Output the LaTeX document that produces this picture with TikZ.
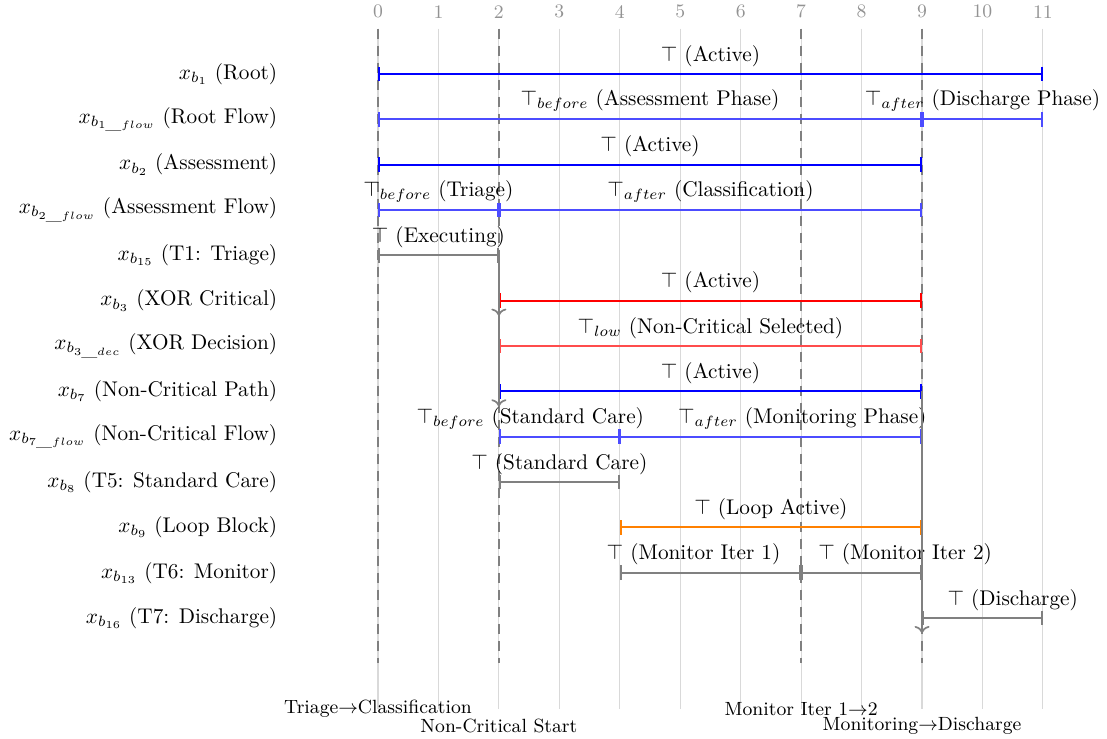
\documentclass[tikz,border=0pt]{standalone}
\usetikzlibrary{arrows.meta}
\begin{document}
\begin{tikzpicture}[
  gridline/.style={gray!30, line width=0.5pt},
  milestone/.style={gray, thick, dash pattern=on 5pt off 3pt},
  seg/.style={line width=0.9pt, {Bar[width=7pt]}-{Bar[width=7pt]}},
  blockbar/.style={seg, blue},
  flowbar/.style={seg, line width=0.8pt, blue!70},
  xorbar/.style={seg, red},
  decbar/.style={seg, line width=0.8pt, red!70},
  taskbar/.style={seg, gray},
  loopbar/.style={seg, orange},
  lbl/.style={anchor=south, text=black},
  rowlbl/.style={anchor=east, inner sep=0pt},
  ticklbl/.style={gray!85, font=\small},
  mslbl/.style={font=\small},
  dep/.style={gray, thick, ->},
]
\useasboundingbox (-6.253,1.224) rectangle (12.06,-10.985);

% grid and axis numbers
\foreach \i in {0,...,11} {
  \draw[gridline] (\i,0.75) -- (\i,-10.5);
  \node[ticklbl] (t\i) at (\i,1.03) {\i};
}
% milestone lines
\foreach \i in {0,2,7,9} {
  \draw[milestone] (\i,0.75) -- (\i,-9.75);
}

% row labels
\node[rowlbl] (r0)  at (-1.66,0)     {$x_{b_1}$ (Root)};
\node[rowlbl] (r1)  at (-1.66,-0.75) {$x_{b_{1\_flow}}$ (Root Flow)};
\node[rowlbl] (r2)  at (-1.66,-1.5)  {$x_{b_2}$ (Assessment)};
\node[rowlbl] (r3)  at (-1.66,-2.25) {$x_{b_{2\_flow}}$ (Assessment Flow)};
\node[rowlbl] (r4)  at (-1.66,-3)    {$x_{b_{15}}$ (T1: Triage)};
\node[rowlbl] (r5)  at (-1.66,-3.75) {$x_{b_3}$ (XOR Critical)};
\node[rowlbl] (r6)  at (-1.66,-4.5)  {$x_{b_{3\_dec}}$ (XOR Decision)};
\node[rowlbl] (r7)  at (-1.66,-5.25) {$x_{b_7}$ (Non-Critical Path)};
\node[rowlbl] (r8)  at (-1.66,-6)    {$x_{b_{7\_flow}}$ (Non-Critical Flow)};
\node[rowlbl] (r9)  at (-1.66,-6.75) {$x_{b_8}$ (T5: Standard Care)};
\node[rowlbl] (r10) at (-1.66,-7.5)  {$x_{b_9}$ (Loop Block)};
\node[rowlbl] (r11) at (-1.66,-8.25) {$x_{b_{13}}$ (T6: Monitor)};
\node[rowlbl] (r12) at (-1.66,-9)    {$x_{b_{16}}$ (T7: Discharge)};

% bars
\draw[blockbar] (0,0) -- (11,0);
\draw[flowbar] (0,-0.75) -- (9,-0.75);
\draw[flowbar] (9,-0.75) -- (11,-0.75);
\draw[blockbar] (0,-1.5) -- (9,-1.5);
\draw[flowbar] (0,-2.25) -- (2,-2.25);
\draw[flowbar] (2,-2.25) -- (9,-2.25);
\draw[taskbar] (0,-3) -- (2,-3);
\draw[xorbar] (2,-3.75) -- (9,-3.75);
\draw[decbar] (2,-4.5) -- (9,-4.5);
\draw[blockbar] (2,-5.25) -- (9,-5.25);
\draw[flowbar] (2,-6) -- (4,-6);
\draw[flowbar] (4,-6) -- (9,-6);
\draw[taskbar] (2,-6.75) -- (4,-6.75);
\draw[loopbar] (4,-7.5) -- (9,-7.5);
\draw[taskbar] (4,-8.25) -- (7,-8.25);
\draw[taskbar] (7,-8.25) -- (9,-8.25);
\draw[taskbar] (9,-9) -- (11,-9);

% bar labels
\node[lbl] (s0)   at (5.5,0)      {$\top$ (Active)};
\node[lbl] (s1a)  at (4.5,-0.75)  {$\top_{before}$ (Assessment Phase)};
\node[lbl] (s1b)  at (10,-0.75)   {$\top_{after}$ (Discharge Phase)};
\node[lbl] (s2)   at (4.5,-1.5)   {$\top$ (Active)};
\node[lbl] (s3a)  at (1,-2.25)    {$\top_{before}$ (Triage)};
\node[lbl] (s3b)  at (5.5,-2.25)  {$\top_{after}$ (Classification)};
\node[lbl] (s4)   at (1,-3)       {$\top$ (Executing)};
\node[lbl] (s5)   at (5.5,-3.75)  {$\top$ (Active)};
\node[lbl] (s6)   at (5.5,-4.5)   {$\top_{low}$ (Non-Critical Selected)};
\node[lbl] (s7)   at (5.5,-5.25)  {$\top$ (Active)};
\node[lbl] (s8a)  at (2.52,-6)    {$\top_{before}$ (Standard Care)};
\node[lbl] (s8b)  at (7.02,-6)    {$\top_{after}$ (Monitoring Phase)};
\node[lbl] (s9)   at (3,-6.75)    {$\top$ (Standard Care)};
\node[lbl] (s10)  at (6.5,-7.5)   {$\top$ (Loop Active)};
\node[lbl] (s11a) at (5.22,-8.25) {$\top$ (Monitor Iter 1)};
\node[lbl] (s11b) at (8.72,-8.25) {$\top$ (Monitor Iter 2)};
\node[lbl] (s12)  at (10.5,-9)    {$\top$ (Discharge)};

% dependencies
\coordinate (d1s) at (2,-3);
\coordinate (d1e) at (2,-4);
\coordinate (d2s) at (2,-3.75);
\coordinate (d2e) at (2,-5.5);
\coordinate (d3s) at (9,-5.25);
\coordinate (d3e) at (9,-9.25);
\draw[dep] (d1s) -- (d1e);
\draw[dep] (d2s) -- (d2e);
\draw[dep] (d3s) -- (d3e);

% milestone labels
\node[mslbl] (m0) at (0,-10.5)  {Triage$\rightarrow$Classification};
\node[mslbl] (m2) at (2,-10.78) {Non-Critical Start};
\node[mslbl] (m7) at (7,-10.5)  {Monitor Iter 1$\rightarrow$2};
\node[mslbl] (m9) at (9,-10.78) {Monitoring$\rightarrow$Discharge};
\end{tikzpicture}
\end{document}
